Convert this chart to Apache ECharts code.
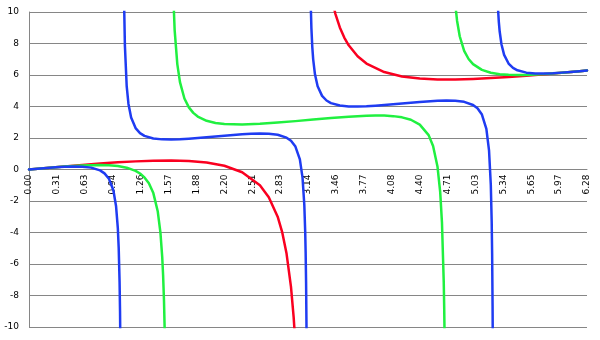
<!DOCTYPE html>
<html>
<head>
<meta charset="utf-8">
<script src="https://cdn.jsdelivr.net/npm/echarts@6/dist/echarts.min.js"></script>
<style>html,body{margin:0;padding:0;background:#fff}#c{width:600px;height:340px}</style>
</head>
<body>
<div id="c"></div>
<script>
// Tick settings
var xMin = 0, xMax = Math.PI * 2, xStep = Math.PI / 10;
var yMin = -10, yMax = 10, yStep = 2;

// Red curve (two branches)
var redA = [[0,0],[0.2,0.0997],[0.4,0.1973],[0.6,0.2907],[0.8,0.3772],[1.0,0.4537],[1.2,0.5159],[1.4,0.5577],[1.6,0.5704],[1.8,0.5398],[2.0,0.4426],[2.2,0.2352],[2.4,-0.1722],[2.6,-1.0021],[2.7,-1.7552],[2.8,-2.9979],[2.85,-3.960],[2.9,-5.338],[2.95,-7.457],[2.98,-9.37],[3.0,-11.10]];
var redB = [[3.35,12.91],[3.4,11.097],[3.45,9.883],[3.5,9.020],[3.55,8.379],[3.6,7.886],[3.7,7.188],[3.8,6.727],[4.0,6.185],[4.2,5.910],[4.4,5.774],[4.6,5.719],[4.8,5.716],[5.0,5.747],[5.2,5.802],[5.4,5.873],[5.6,5.956],[5.8,6.046],[5.9,6.094],[6.0,6.1425],[6.1,6.1918],[6.2,6.2416],[6.2832,6.2832]];

// Green curve (three branches)
var greenA = [[0,0],[0.1,0.0498],[0.2,0.0986],[0.4,0.1886],[0.6,0.2579],[0.8,0.2852],[0.9,0.2699],[1.0,0.2213],[1.1,0.1176],[1.2,-0.0861],[1.25,-0.2548],[1.3,-0.5011],[1.35,-0.8776],[1.4,-1.4989],[1.45,-2.669],[1.48,-4.0118],[1.5,-5.5507],[1.51,-6.7042],[1.52,-8.3148],[1.53,-10.719]];
var greenB = [[1.61,14.357],[1.62,11.774],[1.64,8.8535],[1.67,6.6936],[1.7,5.5483],[1.75,4.5102],[1.8,3.9431],[1.85,3.594],[1.9,3.3636],[2.0,3.0925],[2.1,2.9549],[2.2,2.8869],[2.4,2.858],[2.6,2.9008],[2.8,2.9778],[3.0,3.0713],[3.2,3.1708],[3.4,3.2678],[3.6,3.3533],[3.8,3.4132],[3.9,3.4263],[4.0,3.4211],[4.1,3.3882],[4.2,3.3111],[4.3,3.1571],[4.4,2.8518],[4.5,2.1813],[4.55,1.4981],[4.6,0.1699],[4.63,-1.4251],[4.65,-3.3539],[4.67,-7.1185],[4.675,-8.6917],[4.68,-10.752]];
var greenC = [[4.78,12.164],[4.8,10.4925],[4.82,9.4484],[4.85,8.4605],[4.9,7.5338],[4.95,7.0145],[5.0,6.6903],[5.1,6.3247],[5.2,6.1428],[5.3,6.0506],[5.4,6.0088],[5.5,5.9978],[5.6,6.007],[5.8,6.0623],[6.0,6.1455],[6.2,6.2417],[6.2832,6.2832]];

// Blue curve (four branches)
var blueA = [[0,0],[0.1,0.0496],[0.2,0.0969],[0.3,0.139],[0.4,0.172],[0.5,0.1895],[0.6,0.1799],[0.7,0.1189],[0.8,-0.0574],[0.85,-0.2438],[0.9,-0.5851],[0.95,-1.3201],[0.98,-2.3158],[1.0,-3.7005],[1.01,-4.9579],[1.02,-7.1462],[1.025,-8.9825],[1.03,-11.889]];
var blueB = [[1.06,18.42],[1.07,10.8117],[1.08,7.849],[1.1,5.2997],[1.12,4.1603],[1.15,3.2945],[1.2,2.6287],[1.25,2.3117],[1.3,2.1365],[1.4,1.97],[1.5,1.9129],[1.6,1.9053],[1.7,1.924],[1.8,1.9576],[2.0,2.0475],[2.2,2.1468],[2.4,2.2355],[2.5,2.2678],[2.6,2.2842],[2.7,2.2726],[2.8,2.2074],[2.9,2.0208],[2.95,1.8222],[3.0,1.4542],[3.05,0.6391],[3.08,-0.5177],[3.1,-2.2359],[3.11,-3.9187],[3.115,-5.237],[3.12,-7.168],[3.125,-10.265]];
var blueC = [[3.16,15.229],[3.17,10.988],[3.18,8.9596],[3.19,7.7726],[3.2,6.995],[3.22,6.0411],[3.25,5.2818],[3.3,4.6763],[3.35,4.3813],[3.4,4.2165],[3.5,4.0591],[3.6,4.0058],[3.7,4.0002],[3.8,4.0199],[3.9,4.0542],[4.0,4.097],[4.2,4.1944],[4.4,4.2907],[4.6,4.3636],[4.7,4.3788],[4.8,4.3651],[4.9,4.2956],[5.0,4.098],[5.05,3.8863],[5.1,3.4886],[5.15,2.58],[5.18,1.2202],[5.2,-0.969],[5.21,-3.3369],[5.215,-5.37],[5.22,-8.677],[5.222,-10.66]];
var blueD = [[5.27,11.798],[5.28,10.3218],[5.29,9.3953],[5.3,8.7609],[5.32,7.9511],[5.35,7.2801],[5.4,6.7275],[5.45,6.4525],[5.5,6.2972],[5.6,6.1486],[5.7,6.099],[5.8,6.0952],[5.9,6.1159],[6.0,6.1508],[6.1,6.194],[6.2,6.2418],[6.2832,6.2832]];

var RED = '#fa0020', GREEN = '#20f040', BLUE = '#1f3cf2';

function mk(name, data, color) {
  return {
    name: name, type: 'line', data: data, showSymbol: false, symbol: 'none',
    smooth: false, clip: true,
    lineStyle: { color: color, width: 2.5, join: 'round', cap: 'round' }, itemStyle: { color: color },
    emphasis: { disabled: true }, z: 3
  };
}

var GRID_TOP = 12, GRID_BOTTOM = 13, H = 340;
var plotH = H - GRID_TOP - GRID_BOTTOM;
// place the x axis where y = 0 sits inside the plot
var zeroOffset = -plotH * (0 - yMin) / (yMax - yMin);

var chart = echarts.init(document.getElementById('c'), null, { renderer: 'canvas' });
chart.setOption({
  animation: false,
  backgroundColor: '#ffffff',
  grid: { left: 29, right: 13, top: GRID_TOP, bottom: GRID_BOTTOM, containLabel: false },
  xAxis: {
    type: 'value', min: xMin, max: xMax, interval: xStep, position: 'bottom', offset: zeroOffset,
    axisLine: { show: true, onZero: false, lineStyle: { color: '#868686', width: 1 } },
    axisTick: { show: false },
    splitLine: { show: false },
    axisLabel: {
      rotate: 90, margin: 5, color: '#000', fontFamily: 'DejaVu Sans', fontSize: 9,
      formatter: function (v) { return (Math.round(v * 100) / 100).toFixed(2); }
    }
  },
  yAxis: {
    type: 'value', min: yMin, max: yMax, interval: yStep,
    axisLine: { show: true, onZero: false, lineStyle: { color: '#868686', width: 1 } },
    axisTick: { show: false },
    splitLine: { show: true, lineStyle: { color: '#868686', width: 1 } },
    axisLabel: { margin: 10, color: '#000', fontFamily: 'DejaVu Sans', fontSize: 9 }
  },
  series: [
    mk('red1', redA, RED), mk('red2', redB, RED),
    mk('green1', greenA, GREEN), mk('green2', greenB, GREEN), mk('green3', greenC, GREEN),
    mk('blue1', blueA, BLUE), mk('blue2', blueB, BLUE), mk('blue3', blueC, BLUE), mk('blue4', blueD, BLUE)
  ]
});
</script>
</body>
</html>
